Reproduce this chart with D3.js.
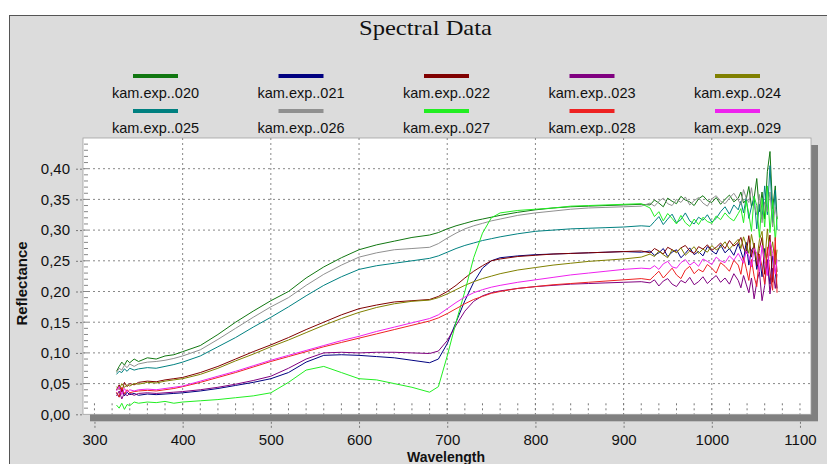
<!DOCTYPE html>
<html>
<head>
<meta charset="utf-8">
<script src="https://cdn.jsdelivr.net/npm/d3@7"></script>
<style>
  body { margin: 0; background: #fff; }
  svg { display: block; }
</style>
</head>
<body>
<div id="chart"></div>
<script>
// wavelengths (nm), shared by all series
const wavelengths = [
  325, 328, 331, 334, 337, 340, 345, 350, 360, 370, 380, 390, 400,
  420, 440, 460, 480, 500, 520, 540, 560, 580, 600, 620, 640, 660, 680,
  690, 700, 710, 720, 730, 740, 750, 760,
  780, 800, 820, 840, 860, 880, 900, 920,
  930, 935, 940, 945, 950, 955, 960, 965, 970, 975, 980, 985, 990, 995, 1000, 1005, 1010, 1015, 1020, 1025, 1030,
  1033, 1036, 1039, 1042, 1045, 1048, 1051, 1054, 1057, 1060, 1063, 1066, 1069, 1072, 1074
];

const seriesNames = ["kam.exp..020", "kam.exp..021", "kam.exp..022", "kam.exp..023", "kam.exp..024",
                     "kam.exp..025", "kam.exp..026", "kam.exp..027", "kam.exp..028", "kam.exp..029"];
const seriesColors = ["#117711", "#000080", "#800000", "#800080", "#808000",
                      "#008080", "#909090", "#22ee22", "#ee2222", "#ee22ee"];

const exp020 = [
  0.070, 0.078, 0.085, 0.080, 0.088, 0.084, 0.090, 0.086, 0.092, 0.090, 0.095, 0.097, 0.102,
  0.112, 0.130, 0.150, 0.168, 0.185, 0.200, 0.222, 0.240, 0.255, 0.268, 0.276, 0.282, 0.288, 0.292,
  0.296, 0.302, 0.307, 0.311, 0.315, 0.318, 0.321, 0.324,
  0.329, 0.333, 0.336, 0.338, 0.339, 0.340, 0.341, 0.342,
  0.341, 0.349, 0.344, 0.338, 0.352, 0.347, 0.343, 0.355, 0.349, 0.346, 0.340, 0.351, 0.356, 0.348, 0.345, 0.353, 0.342, 0.350, 0.357, 0.346, 0.352,
  0.362, 0.344, 0.350, 0.371, 0.338, 0.352, 0.384, 0.330, 0.362, 0.318, 0.395, 0.428, 0.335, 0.372, 0.318
];
const exp021 = [
  0.035, 0.028, 0.042, 0.030, 0.036, 0.032, 0.034, 0.031, 0.033, 0.032, 0.033, 0.034, 0.035,
  0.038, 0.042, 0.047, 0.052, 0.058, 0.068, 0.085, 0.096, 0.097, 0.096, 0.094, 0.092, 0.088, 0.084,
  0.090, 0.115, 0.150, 0.185, 0.215, 0.238, 0.250, 0.255,
  0.258, 0.260, 0.261, 0.262, 0.263, 0.264, 0.265, 0.264,
  0.266, 0.259, 0.263, 0.270, 0.257, 0.264, 0.268, 0.255, 0.262, 0.271, 0.260, 0.265, 0.258, 0.273, 0.266, 0.261, 0.276, 0.263, 0.270, 0.259, 0.278,
  0.265, 0.252, 0.280, 0.243, 0.268, 0.272, 0.236, 0.258, 0.224, 0.270, 0.246, 0.212, 0.258, 0.232, 0.205
];
const exp022 = [
  0.040, 0.048, 0.036, 0.052, 0.045, 0.050, 0.048, 0.052, 0.054, 0.053, 0.056, 0.058, 0.060,
  0.068, 0.078, 0.090, 0.102, 0.113, 0.125, 0.138, 0.150, 0.162, 0.172, 0.178, 0.183, 0.185, 0.187,
  0.192, 0.200, 0.210, 0.222, 0.233, 0.242, 0.250, 0.253,
  0.257, 0.259, 0.261, 0.262, 0.263, 0.264, 0.265, 0.266,
  0.263, 0.270, 0.266, 0.261, 0.272, 0.268, 0.264, 0.271, 0.275, 0.266, 0.262, 0.273, 0.269, 0.276, 0.267, 0.272, 0.279, 0.270, 0.283, 0.274, 0.280,
  0.288, 0.271, 0.262, 0.291, 0.256, 0.279, 0.242, 0.270, 0.288, 0.228, 0.262, 0.292, 0.215, 0.268, 0.232
];
const exp023 = [
  0.030, 0.038, 0.025, 0.035, 0.030, 0.034, 0.031, 0.034, 0.035, 0.034, 0.035, 0.036, 0.037,
  0.040, 0.044, 0.049, 0.055, 0.062, 0.075, 0.090, 0.100, 0.101, 0.100, 0.101, 0.101, 0.100, 0.099,
  0.103, 0.120, 0.145, 0.168, 0.184, 0.193, 0.198, 0.201,
  0.205, 0.208, 0.210, 0.212, 0.213, 0.214, 0.215, 0.216,
  0.214, 0.219, 0.209, 0.217, 0.221, 0.212, 0.208, 0.218, 0.214, 0.223, 0.211, 0.216, 0.224, 0.213, 0.220, 0.226, 0.215, 0.222, 0.212, 0.229, 0.218,
  0.206, 0.226, 0.212, 0.198, 0.222, 0.188, 0.215, 0.232, 0.185, 0.210, 0.252, 0.196, 0.238, 0.205, 0.228
];
const exp024 = [
  0.045, 0.040, 0.050, 0.044, 0.048, 0.046, 0.050, 0.049, 0.052, 0.051, 0.054, 0.056, 0.058,
  0.065, 0.075, 0.087, 0.098, 0.110, 0.121, 0.133, 0.145, 0.156, 0.166, 0.174, 0.180, 0.184, 0.186,
  0.190, 0.196, 0.203, 0.210, 0.216, 0.221, 0.225, 0.229,
  0.235, 0.239, 0.243, 0.246, 0.249, 0.251, 0.253, 0.256,
  0.261, 0.257, 0.266, 0.260, 0.255, 0.268, 0.263, 0.271, 0.259, 0.266, 0.273, 0.262, 0.269, 0.264, 0.275, 0.268, 0.272, 0.281, 0.269, 0.277, 0.285,
  0.270, 0.289, 0.276, 0.262, 0.293, 0.270, 0.251, 0.284, 0.298, 0.246, 0.302, 0.258, 0.281, 0.244, 0.268
];
const exp025 = [
  0.065, 0.070, 0.068, 0.074, 0.070, 0.075, 0.072, 0.074, 0.076, 0.075, 0.078, 0.081, 0.085,
  0.095, 0.110, 0.125, 0.142, 0.158, 0.175, 0.193, 0.210, 0.224, 0.236, 0.242, 0.246, 0.250, 0.254,
  0.258, 0.264, 0.270, 0.275, 0.279, 0.283, 0.286, 0.289,
  0.294, 0.298, 0.300, 0.302, 0.303, 0.304, 0.305, 0.307,
  0.306, 0.314, 0.322, 0.309, 0.318, 0.326, 0.312, 0.317, 0.328, 0.315, 0.310, 0.321, 0.316, 0.325, 0.313, 0.319, 0.330, 0.338, 0.326, 0.341, 0.333,
  0.347, 0.328, 0.352, 0.319, 0.338, 0.355, 0.302, 0.342, 0.318, 0.372, 0.325, 0.405, 0.312, 0.365, 0.300
];
const exp026 = [
  0.068, 0.075, 0.072, 0.080, 0.076, 0.082, 0.078, 0.082, 0.085, 0.086, 0.088, 0.091, 0.095,
  0.105, 0.122, 0.140, 0.158, 0.175, 0.190, 0.210, 0.228, 0.243, 0.256, 0.263, 0.268, 0.270, 0.272,
  0.278, 0.287, 0.295, 0.302, 0.307, 0.311, 0.315, 0.318,
  0.324, 0.328, 0.331, 0.334, 0.336, 0.337, 0.338, 0.339,
  0.344, 0.339, 0.347, 0.352, 0.343, 0.340, 0.350, 0.345, 0.354, 0.341, 0.348, 0.353, 0.344, 0.339, 0.351, 0.356, 0.347, 0.343, 0.352, 0.360, 0.349,
  0.341, 0.366, 0.352, 0.345, 0.369, 0.340, 0.325, 0.358, 0.312, 0.346, 0.330, 0.362, 0.305, 0.338, 0.318
];
const exp027 = [
  0.015, 0.010, 0.018, 0.008, 0.016, 0.014, 0.020, 0.018, 0.020, 0.019, 0.021, 0.018, 0.020,
  0.022, 0.024, 0.027, 0.030, 0.035, 0.052, 0.072, 0.078, 0.068, 0.058, 0.056, 0.050, 0.044, 0.036,
  0.045, 0.095, 0.150, 0.200, 0.255, 0.295, 0.320, 0.328,
  0.332, 0.334, 0.336, 0.339, 0.340, 0.341, 0.342, 0.343,
  0.336, 0.322, 0.330, 0.315, 0.327, 0.319, 0.310, 0.324, 0.312, 0.306, 0.318, 0.309, 0.321, 0.314, 0.311, 0.323, 0.317, 0.328, 0.320, 0.315, 0.327,
  0.335, 0.312, 0.348, 0.326, 0.298, 0.355, 0.340, 0.288, 0.352, 0.305, 0.372, 0.296, 0.348, 0.282, 0.322
];
const exp028 = [
  0.036, 0.028, 0.044, 0.033, 0.040, 0.035, 0.037, 0.038, 0.039, 0.038, 0.040, 0.042, 0.045,
  0.052, 0.060, 0.068, 0.077, 0.086, 0.094, 0.102, 0.110, 0.117, 0.124, 0.131, 0.138, 0.145, 0.152,
  0.157, 0.164, 0.172, 0.180, 0.187, 0.192, 0.197, 0.200,
  0.205, 0.208, 0.211, 0.213, 0.215, 0.217, 0.219, 0.221,
  0.219, 0.226, 0.233, 0.222, 0.230, 0.238, 0.227, 0.221, 0.235, 0.241, 0.229, 0.236, 0.232, 0.244, 0.238, 0.230, 0.247, 0.241, 0.233, 0.251, 0.243,
  0.228, 0.256, 0.238, 0.218, 0.252, 0.225, 0.208, 0.261, 0.240, 0.212, 0.272, 0.230, 0.202, 0.288, 0.198
];
const exp029 = [
  0.038, 0.045, 0.032, 0.042, 0.036, 0.040, 0.038, 0.040, 0.041, 0.040, 0.042, 0.044, 0.046,
  0.054, 0.062, 0.070, 0.079, 0.088, 0.096, 0.104, 0.112, 0.120, 0.127, 0.135, 0.142, 0.149, 0.156,
  0.162, 0.172, 0.182, 0.191, 0.198, 0.203, 0.207, 0.210,
  0.215, 0.219, 0.223, 0.227, 0.230, 0.233, 0.236, 0.238,
  0.237, 0.242, 0.236, 0.245, 0.249, 0.240, 0.238, 0.247, 0.252, 0.243, 0.248, 0.241, 0.253, 0.249, 0.244, 0.256, 0.250, 0.247, 0.258, 0.251, 0.262,
  0.254, 0.246, 0.266, 0.258, 0.240, 0.270, 0.262, 0.232, 0.275, 0.248, 0.226, 0.281, 0.262, 0.228, 0.252
];

const seriesValues = [exp020, exp021, exp022, exp023, exp024, exp025, exp026, exp027, exp028, exp029];

const xTicks = [300, 400, 500, 600, 700, 800, 900, 1000, 1100];
const yTicks = [0, 0.05, 0.10, 0.15, 0.20, 0.25, 0.30, 0.35, 0.40];
const xGrid = [400, 500, 600, 700, 800, 900, 1000];
const yGrid = [0.05, 0.10, 0.15, 0.20, 0.25, 0.30, 0.35, 0.40];

function init(){

    const width = 827;
    const height = 464;

    const plot = {left: 83, top: 138, right: 811, bottom: 414.3};
    const shadow = 6.5;

    const svg = d3.select("#chart")
                .append("svg")
                .attr("width", width)
                .attr("height", height);

    const comma = d3.formatLocale({decimal: ",", thousands: ".", grouping: [3], currency: ["", ""]}).format(".2f");

    const x = d3.scaleLinear()
                .domain([287, 1112.5])
                .range([plot.left, plot.right]);

    const y = d3.scaleLinear()
                .domain([0, 0.45])
                .range([plot.bottom, plot.top]);

    //Frame
    svg.append("rect")
        .attr("x", 9.5)
        .attr("y", 15.5)
        .attr("width", width + 10)
        .attr("height", height)
        .attr("fill", "#dcdcdc")
        .attr("stroke", "#555");

    svg.append("text")
        .attr("x", 425.5)
        .attr("y", 35)
        .attr("text-anchor", "middle")
        .attr("font-family", "'Liberation Serif', 'Times New Roman', serif")
        .attr("font-size", 22)
        .attr("textLength", 133)
        .attr("lengthAdjust", "spacingAndGlyphs")
        .attr("fill", "#111")
        .text("Spectral Data");

    //Legend, two rows of five
    const legendCols = [155.5, 301, 446.5, 592, 737.5];
    const legendRows = [{swatch: 76, label: 98}, {swatch: 111, label: 132.5}];

    seriesNames.forEach((name, i) => {
        const cx = legendCols[i % 5];
        const row = legendRows[Math.floor(i / 5)];
        svg.append("rect")
            .attr("x", cx - 22.5)
            .attr("y", row.swatch - 2)
            .attr("width", 45)
            .attr("height", 4)
            .attr("fill", seriesColors[i]);
        svg.append("text")
            .attr("x", cx)
            .attr("y", row.label)
            .attr("text-anchor", "middle")
            .attr("font-family", "'Liberation Sans', Arial, sans-serif")
            .attr("font-size", 14.5)
            .attr("fill", "#111")
            .text(name);
    });

    //Plot area with its shadow
    svg.append("rect")
        .attr("x", plot.left + 7)
        .attr("y", plot.top + 7)
        .attr("width", plot.right - plot.left)
        .attr("height", plot.bottom - plot.top)
        .attr("fill", "#808080");

    svg.append("rect")
        .attr("x", plot.left)
        .attr("y", plot.top)
        .attr("width", plot.right - plot.left)
        .attr("height", plot.bottom - plot.top)
        .attr("fill", "#fff")
        .attr("stroke", "#a0a0a0")
        .attr("stroke-width", 0.8);

    //Grid
    svg.append("g")
        .selectAll("line")
        .data(yGrid)
        .enter().append("line")
        .attr("x1", plot.left)
        .attr("x2", plot.right)
        .attr("y1", d => y(d))
        .attr("y2", d => y(d))
        .attr("stroke", "#888")
        .attr("stroke-dasharray", "2,3");

    svg.append("g")
        .selectAll("line")
        .data(xGrid)
        .enter().append("line")
        .attr("x1", d => x(d))
        .attr("x2", d => x(d))
        .attr("y1", plot.top)
        .attr("y2", plot.bottom)
        .attr("stroke", "#888")
        .attr("stroke-dasharray", "2,3");

    //Minor ticks inside the plot
    svg.append("g")
        .selectAll("line")
        .data(d3.range(300, 1101, 20))
        .enter().append("line")
        .attr("x1", d => x(d))
        .attr("x2", d => x(d))
        .attr("y1", plot.bottom - 11)
        .attr("y2", plot.bottom)
        .attr("stroke", "#777")
        .attr("stroke-dasharray", "2,3");

    svg.append("g")
        .selectAll("line")
        .data(d3.range(1, 45))
        .enter().append("line")
        .attr("x1", plot.left + 1)
        .attr("x2", plot.left + 5)
        .attr("y1", d => y(d / 100))
        .attr("y2", d => y(d / 100))
        .attr("stroke", "#888");

    //Series
    svg.append("clipPath")
        .attr("id", "clip")
        .append("rect")
        .attr("x", plot.left)
        .attr("y", plot.top)
        .attr("width", plot.right - plot.left)
        .attr("height", plot.bottom - plot.top);

    const line = d3.line()
                .defined(d => d[1] !== undefined)
                .x(d => x(d[0]))
                .y(d => y(d[1]));

    const lines = svg.append("g").attr("clip-path", "url(#clip)");

    seriesValues.forEach((vals, i) => {
        lines.append("path")
            .attr("d", line(wavelengths.map((w, j) => [w, vals[j]])))
            .attr("fill", "none")
            .attr("stroke", seriesColors[i])
            .attr("stroke-width", 1)
            .attr("stroke-linejoin", "round");
    });

    //Axes
    const yAxis = svg.append("g")
        .attr("transform", `translate(${plot.left - 1},0)`)
        .call(d3.axisLeft(y).tickValues(yTicks).tickSize(6).tickPadding(6).tickFormat(comma));

    const xAxis = svg.append("g")
        .attr("transform", `translate(0,${plot.bottom + shadow + 1})`)
        .call(d3.axisBottom(x).tickValues(xTicks).tickSize(6).tickPadding(7).tickFormat(d3.format("d")));

    [yAxis, xAxis].forEach(g => {
        g.select(".domain").remove();
        g.selectAll("line").attr("stroke", "#777").attr("stroke-dasharray", "2,2");
        g.selectAll("text")
            .attr("font-family", "'Liberation Sans', Arial, sans-serif")
            .attr("font-size", 15)
            .attr("fill", "#111");
    });

    svg.append("text")
        .attr("x", 446)
        .attr("y", 462)
        .attr("text-anchor", "middle")
        .attr("font-family", "'Liberation Sans', Arial, sans-serif")
        .attr("font-size", 14)
        .attr("font-weight", "bold")
        .attr("fill", "#111")
        .text("Wavelength");

    svg.append("text")
        .attr("transform", "translate(27,283.5) rotate(-90)")
        .attr("text-anchor", "middle")
        .attr("font-family", "'Liberation Sans', Arial, sans-serif")
        .attr("font-size", 15)
        .attr("font-weight", "bold")
        .attr("fill", "#111")
        .text("Reflectance");

}
window.onload = init;
</script>
</body>
</html>
